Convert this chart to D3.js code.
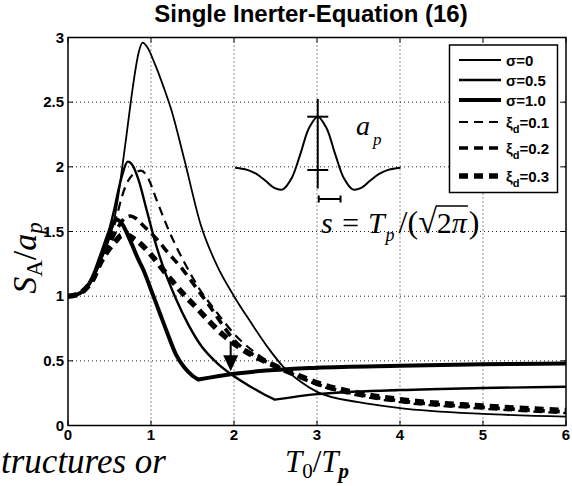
<!DOCTYPE html>
<html>
<head>
<meta charset="utf-8">
<script src="https://cdn.jsdelivr.net/npm/d3@7"></script>
<style>
  body { margin: 0; background: #fff; }
  svg { display: block; }
</style>
</head>
<body>
<svg id="svg" width="572" height="486"></svg>
<script>
// values: [T0/Tp, SA/ap]
const sigma0 = [[0,1],[0.1,1.01],[0.2,1.05],[0.3,1.13],[0.4,1.28],[0.5,1.45],[0.55,1.57],[0.6,1.75],[0.65,1.98],[0.7,2.22],[0.75,2.47],[0.8,2.7],[0.85,2.88],[0.9,2.96],[0.95,2.93],[1.05,2.79],[1.15,2.62],[1.25,2.43],[1.4,2.06],[1.6,1.55],[1.8,1.23],[2.0,1.0],[2.2,0.8],[2.4,0.61],[2.6,0.45],[2.8,0.34],[3.0,0.26],[3.5,0.18],[4,0.135],[5,0.09],[6,0.068]];
const sigma05 = [[0,1],[0.1,1.01],[0.2,1.05],[0.3,1.14],[0.4,1.3],[0.5,1.52],[0.55,1.65],[0.6,1.8],[0.65,1.93],[0.72,2.04],[0.78,2.01],[0.85,1.9],[0.95,1.66],[1.05,1.42],[1.15,1.22],[1.3,0.98],[1.45,0.78],[1.6,0.62],[1.8,0.48],[2.0,0.38],[2.2,0.3],[2.35,0.245],[2.49,0.2],[3,0.243],[4,0.274],[5,0.29],[6,0.3]];
const sigma10 = [[0,1],[0.1,1.01],[0.2,1.05],[0.3,1.15],[0.4,1.32],[0.5,1.5],[0.55,1.57],[0.59,1.59],[0.65,1.56],[0.75,1.43],[0.85,1.28],[0.91,1.2],[1.0,1.05],[1.1,0.88],[1.2,0.71],[1.3,0.55],[1.4,0.45],[1.5,0.385],[1.57,0.355],[2,0.4],[3,0.447],[4,0.462],[5,0.473],[6,0.48]];
const xi01 = [[0,1],[0.1,1.01],[0.2,1.05],[0.3,1.13],[0.4,1.27],[0.5,1.42],[0.6,1.65],[0.65,1.77],[0.7,1.86],[0.78,1.94],[0.88,1.97],[0.95,1.93],[1.07,1.74],[1.2,1.53],[1.33,1.35],[1.47,1.18],[1.6,1.04],[1.75,0.91],[1.87,0.81],[2.0,0.71],[2.2,0.59],[2.4,0.5],[2.6,0.43],[2.8,0.37],[3.0,0.315],[3.5,0.23],[4,0.18],[5,0.13],[6,0.095]];
const xi02 = [[0,1],[0.1,1.01],[0.2,1.05],[0.3,1.13],[0.4,1.27],[0.5,1.4],[0.6,1.53],[0.68,1.6],[0.75,1.62],[0.82,1.6],[0.9,1.55],[0.98,1.5],[1.07,1.44],[1.2,1.34],[1.39,1.2],[1.55,1.06],[1.71,0.92],[1.87,0.77],[2.03,0.64],[2.2,0.56],[2.4,0.49],[2.6,0.43],[2.8,0.37],[3.0,0.32],[3.5,0.24],[4,0.19],[5,0.14],[6,0.105]];
const xi03 = [[0,1],[0.1,1.01],[0.2,1.05],[0.3,1.13],[0.4,1.27],[0.5,1.37],[0.58,1.43],[0.65,1.47],[0.72,1.47],[0.8,1.44],[0.9,1.39],[1.0,1.32],[1.2,1.16],[1.4,1.01],[1.55,0.91],[1.71,0.8],[1.87,0.7],[2.03,0.62],[2.2,0.55],[2.4,0.49],[2.6,0.43],[2.8,0.38],[3.0,0.33],[3.5,0.25],[4,0.2],[5,0.15],[6,0.115]];

const xTicks = [0, 1, 2, 3, 4, 5, 6];
const yTicks = [0, 0.5, 1, 1.5, 2, 2.5, 3];
const yTickLabels = ["0", "0.5", "1", "1.5", "2", "2.5", "3"];

// pulse sketched in the inset: time (in widths s) and normalised acceleration
const pulseT = [-3.8,-3.6,-3.2,-2.8,-2.4,-2.0,-1.6,-1.2,-0.8,-0.4,0,0.4,0.8,1.2,1.6,2.0,2.4,2.8,3.2,3.6,3.8];
const pulseA = [-0.01,-0.02,-0.055,-0.135,-0.265,-0.405,-0.435,-0.215,0.26,0.775,1,0.775,0.26,-0.215,-0.435,-0.405,-0.265,-0.135,-0.055,-0.02,-0.01];

// arrow marking the crossing near T0/Tp = 2
const arrowX = 1.96;
const arrowY = [0.65, 0.42];

const svg = d3.select("#svg");
const mLeft = 68, mRight = 566, mTop = 37.5, mBottom = 425.5;

const x = d3.scaleLinear().domain([0, 6]).range([mLeft, mRight]);
const y = d3.scaleLinear().domain([0, 3]).range([mBottom, mTop]);

const series = [
  { label: "σ=0", sub: null, data: sigma0, w: 1.8, dash: null },
  { label: "σ=0.5", sub: null, data: sigma05, w: 2.4, dash: null },
  { label: "σ=1.0", sub: null, data: sigma10, w: 4, dash: null },
  { label: "ξ", sub: "=0.1", data: xi01, w: 2.2, dash: "9,6" },
  { label: "ξ", sub: "=0.2", data: xi02, w: 3.6, dash: "9,6" },
  { label: "ξ", sub: "=0.3", data: xi03, w: 5.5, dash: "9,6" },
];

// grid (dotted)
const grid = svg.append("g").attr("stroke", "#222").attr("stroke-width", 1).attr("stroke-dasharray", "1,3");
xTicks.slice(1, -1).forEach((t) => {
  grid.append("line").attr("x1", x(t)).attr("x2", x(t)).attr("y1", mTop).attr("y2", mBottom);
});
yTicks.slice(1, -1).forEach((t) => {
  grid.append("line").attr("x1", mLeft).attr("x2", mRight).attr("y1", y(t)).attr("y2", y(t));
});

// curves
svg.append("clipPath").attr("id", "plotclip")
  .append("rect").attr("x", mLeft).attr("y", mTop).attr("width", mRight - mLeft).attr("height", mBottom - mTop);

const line = d3.line().x((d) => x(d[0])).y((d) => y(d[1])).curve(d3.curveMonotoneX);

// keep the corner sharp where a curve turns up again
function seriesPath(data) {
  const k = d3.minIndex(data, (d) => d[1]);
  if (k <= 0 || k >= data.length - 1) return line(data);
  const a = line(data.slice(0, k + 1));
  const b = line(data.slice(k));
  return a + b.replace(/^M[^A-Za-z]*/, "");
}

const curves = svg.append("g").attr("clip-path", "url(#plotclip)");
series.forEach((s) => {
  curves.append("path")
    .attr("d", seriesPath(s.data))
    .attr("fill", "none")
    .attr("stroke", "#000")
    .attr("stroke-width", s.w)
    .attr("stroke-dasharray", s.dash)
    .attr("stroke-linejoin", "round");
});

// arrow
const ax = x(arrowX);
svg.append("line")
  .attr("x1", ax).attr("x2", ax)
  .attr("y1", y(arrowY[0])).attr("y2", y(arrowY[1]) - 14)
  .attr("stroke", "#000").attr("stroke-width", 2);
svg.append("path")
  .attr("d", `M${ax - 7.5},${y(arrowY[1]) - 16} L${ax + 7.5},${y(arrowY[1]) - 16} L${ax},${y(arrowY[1])} Z`)
  .attr("fill", "#000");

// box and inward ticks
svg.append("rect")
  .attr("x", mLeft).attr("y", mTop).attr("width", mRight - mLeft).attr("height", mBottom - mTop)
  .attr("fill", "none").attr("stroke", "#000").attr("stroke-width", 1.5);
const ticks = svg.append("g").attr("stroke", "#000").attr("stroke-width", 1);
xTicks.forEach((t) => {
  ticks.append("line").attr("x1", x(t)).attr("x2", x(t)).attr("y1", mBottom).attr("y2", mBottom - 5);
  ticks.append("line").attr("x1", x(t)).attr("x2", x(t)).attr("y1", mTop).attr("y2", mTop + 5);
});
yTicks.forEach((t) => {
  ticks.append("line").attr("x1", mLeft).attr("x2", mLeft + 5).attr("y1", y(t)).attr("y2", y(t));
  ticks.append("line").attr("x1", mRight).attr("x2", mRight - 5).attr("y1", y(t)).attr("y2", y(t));
});

// tick labels
const tickFont = "'Liberation Sans', Arial, sans-serif";
svg.append("g").selectAll("text").data(xTicks).join("text")
  .attr("x", (d) => x(d)).attr("y", mBottom + 14.5)
  .attr("text-anchor", "middle")
  .attr("font-family", tickFont).attr("font-weight", "bold").attr("font-size", 15)
  .text((d) => d);
svg.append("g").selectAll("text").data(yTicks).join("text")
  .attr("x", mLeft - 4).attr("y", (d) => y(d) + 5)
  .attr("text-anchor", "end")
  .attr("font-family", tickFont).attr("font-weight", "bold").attr("font-size", 15)
  .text((d, i) => yTickLabels[i]);

// title
svg.append("text")
  .attr("x", 311).attr("y", 22)
  .attr("text-anchor", "middle")
  .attr("font-family", tickFont).attr("font-weight", "bold").attr("font-size", 24)
  .text("Single Inerter-Equation (16)");

// axis labels
const mathFont = "'Liberation Serif', 'Times New Roman', serif";
const xl = svg.append("text")
  .attr("x", (mLeft + mRight) / 2).attr("y", 472)
  .attr("text-anchor", "middle")
  .attr("font-family", mathFont).attr("font-size", 31);
xl.append("tspan").attr("font-style", "italic").text("T");
xl.append("tspan").attr("font-size", 21).attr("dy", 6).text("0");
xl.append("tspan").attr("dy", -6).text("/");
xl.append("tspan").attr("font-style", "italic").text("T");
xl.append("tspan").attr("font-style", "italic").attr("font-weight", "bold").attr("font-size", 21).attr("dy", 6).text("p");

const yl = svg.append("text")
  .attr("transform", "translate(36,258) rotate(-90)")
  .attr("text-anchor", "middle")
  .attr("font-family", mathFont).attr("font-size", 34);
yl.append("tspan").attr("font-style", "italic").text("S");
yl.append("tspan").attr("font-size", 23).attr("dy", 6).text("A");
yl.append("tspan").attr("dy", -6).text("/");
yl.append("tspan").attr("font-style", "italic").text("a");
yl.append("tspan").attr("font-style", "italic").attr("font-size", 23).attr("dy", 6).text("p");

// text of the page below the figure, as it shows in the crop
svg.append("text")
  .attr("x", 1).attr("y", 473)
  .attr("font-family", mathFont).attr("font-style", "italic").attr("font-size", 35)
  .text("tructures or");

// inset pulse
const px = d3.scaleLinear().domain([-3.8, 3.8]).range([235, 400.5]);
const py = d3.scaleLinear().domain([0, 1]).range([167.3, 116.7]);
const inset = svg.append("g").attr("stroke", "#000").attr("fill", "none");
inset.append("path")
  .attr("d", d3.line().x((d, i) => px(pulseT[i])).y((d) => py(d)).curve(d3.curveCatmullRom)(pulseA))
  .attr("stroke-width", 2);
inset.append("line").attr("x1", px(0)).attr("x2", px(0)).attr("y1", 99).attr("y2", 188.5).attr("stroke-width", 2);
inset.append("line").attr("x1", px(0) - 10.5).attr("x2", px(0) + 10.5).attr("y1", py(1)).attr("y2", py(1)).attr("stroke-width", 2);
inset.append("line").attr("x1", px(0) - 10.5).attr("x2", px(0) + 10.5).attr("y1", 170).attr("y2", 170).attr("stroke-width", 2);
inset.append("line").attr("x1", px(0) + 1).attr("x2", px(1) + 1).attr("y1", 199).attr("y2", 199).attr("stroke-width", 2);
inset.append("line").attr("x1", px(0) + 1).attr("x2", px(0) + 1).attr("y1", 195.5).attr("y2", 202.5).attr("stroke-width", 2);
inset.append("line").attr("x1", px(1) + 1).attr("x2", px(1) + 1).attr("y1", 195.5).attr("y2", 202.5).attr("stroke-width", 2);

const ap = svg.append("text").attr("x", 356).attr("y", 135)
  .attr("font-family", mathFont).attr("font-style", "italic").attr("font-size", 28);
ap.append("tspan").text("a");
ap.append("tspan").attr("font-size", 17).attr("dx", 3).attr("dy", 10).text("p");

// s = Tp/(sqrt(2) pi), laid out piece by piece
let cx = 321;
const base = 233;
function piece(str, opts) {
  const t = svg.append("text")
    .attr("x", cx).attr("y", base + (opts.dy || 0))
    .attr("font-family", mathFont)
    .attr("font-size", opts.size || 30)
    .attr("font-style", opts.italic ? "italic" : "normal")
    .text(str);
  const w = t.node().getComputedTextLength();
  cx += w + (opts.gap || 0);
  return { x0: cx - w - (opts.gap || 0), w: w };
}
piece("s = T", { italic: true, gap: 1 });
piece("p", { italic: true, size: 18, dy: 8, gap: 4 });
piece("/(", { size: 32 });
piece("√", { size: 34 });
const r2 = piece("2", { size: 30 });
const rpi = piece("π", { size: 30, italic: true, gap: 2 });
piece(")", { size: 32 });
svg.append("line")
  .attr("x1", r2.x0 - 1).attr("x2", rpi.x0 + rpi.w + 1)
  .attr("y1", 206).attr("y2", 206)
  .attr("stroke", "#000").attr("stroke-width", 1.5);

// legend
const legRowY = [60, 80, 100, 122, 148, 176];
const leg = svg.append("g");
leg.append("rect")
  .attr("x", 449.5).attr("y", 45).attr("width", 108).attr("height", 147.5)
  .attr("fill", "#fff").attr("stroke", "#000").attr("stroke-width", 1.5);
series.forEach((s, i) => {
  const ly = legRowY[i];
  leg.append("line")
    .attr("x1", 459).attr("x2", 501).attr("y1", ly).attr("y2", ly)
    .attr("stroke", "#000").attr("stroke-width", s.w).attr("stroke-dasharray", s.dash);
  const t = leg.append("text")
    .attr("x", 506).attr("y", ly + 5.5)
    .attr("font-family", tickFont).attr("font-weight", "bold").attr("font-size", 15);
  t.append("tspan").text(s.label);
  if (s.sub) {
    t.append("tspan").attr("font-size", 11).attr("dy", 5).text("d");
    t.append("tspan").attr("dy", -5).text(s.sub);
  }
});
</script>
</body>
</html>
